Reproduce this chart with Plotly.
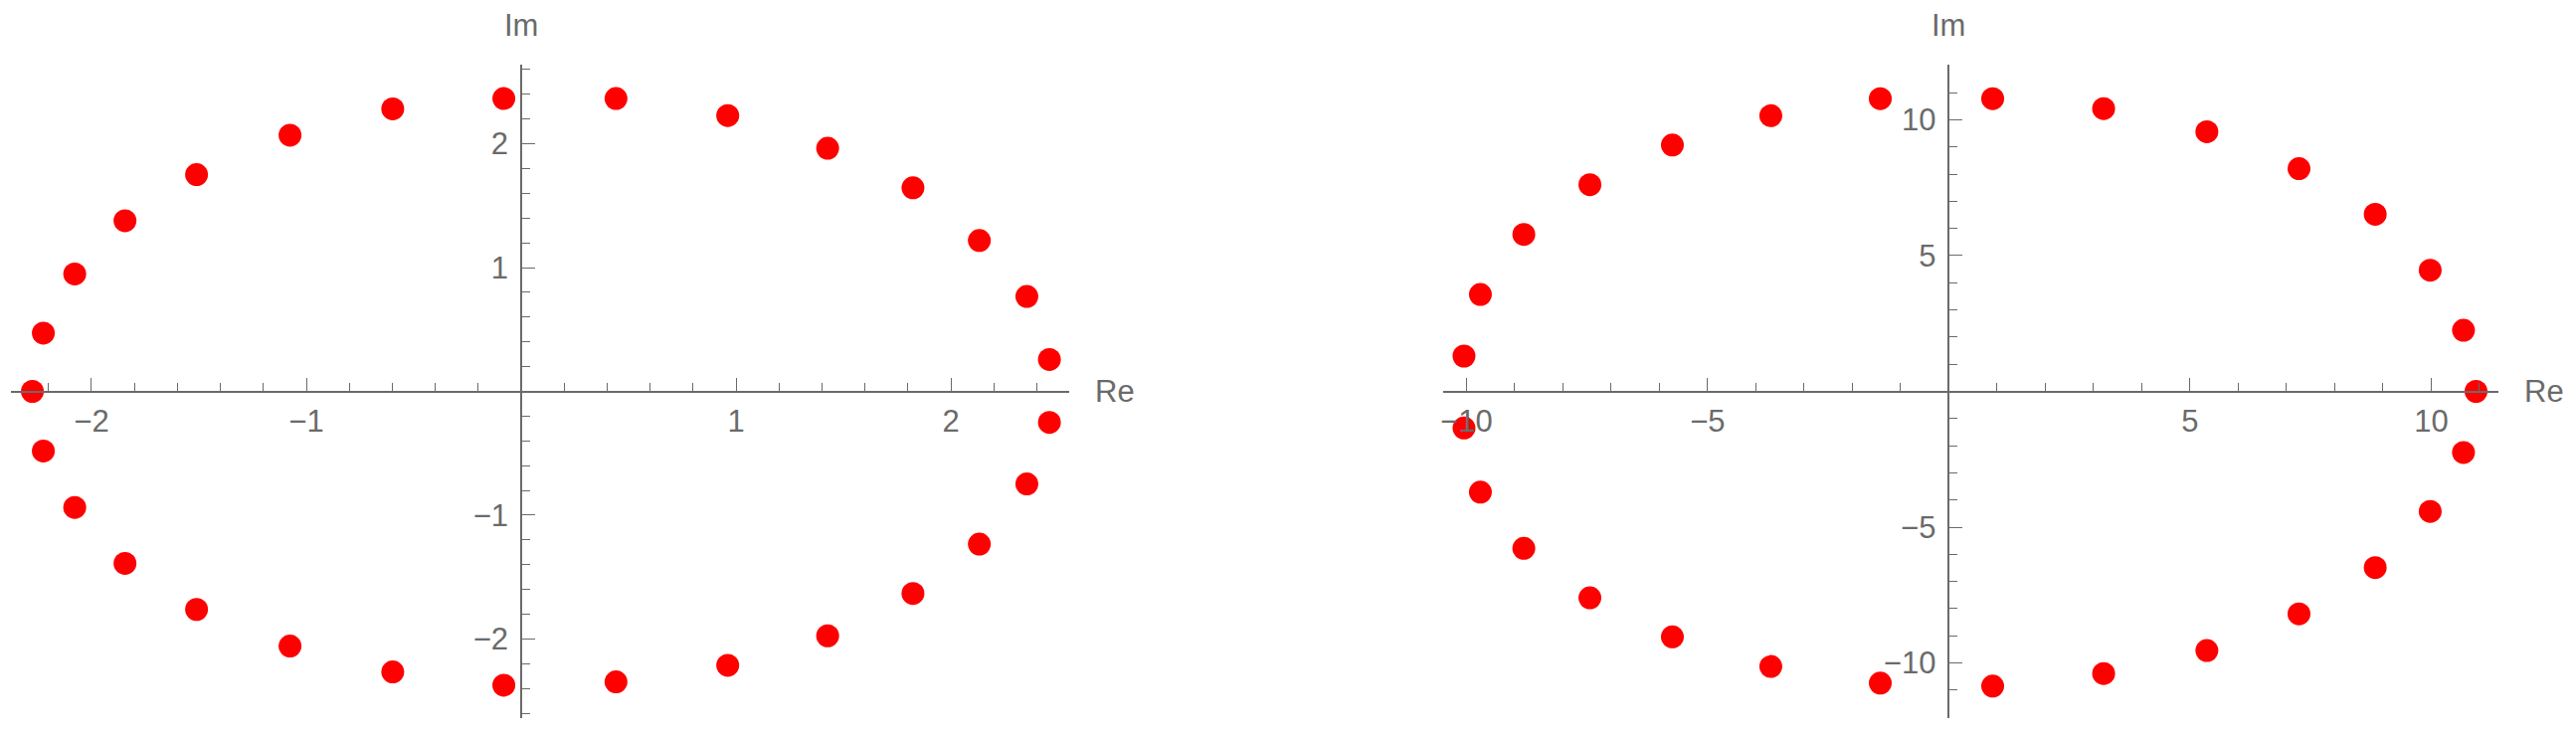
import plotly.graph_objects as go

# roots (left panel)
left_re = [-2.275, -2.224, -2.078, -1.844, -1.511, -1.076, -0.598, -0.081,
           0.441, 0.961, 1.426, 1.823, 2.132, 2.353, 2.458,
           2.458, 2.353, 2.132, 1.823, 1.426, 0.961, 0.441,
           -0.081, -0.598, -1.076, -1.511, -1.844, -2.078, -2.224]
left_im = [0.0, 0.471, 0.949, 1.379, 1.751, 2.070, 2.283, 2.366,
           2.366, 2.229, 1.964, 1.645, 1.219, 0.767, 0.258,
           -0.251, -0.748, -1.234, -1.633, -1.975, -2.214, -2.347,
           -2.374, -2.267, -2.058, -1.762, -1.390, -0.938, -0.482]

# right panel
right_re = [-10.05, -9.71, -8.81, -7.44, -5.73, -3.69, -1.42,
            0.91, 3.21, 5.35, 7.26, 8.84, 9.98, 10.67, 10.93,
            10.67, 9.98, 8.84, 7.26, 5.35, 3.21, 0.91,
            -1.42, -3.69, -5.73, -7.44, -8.81, -9.71, -10.05]
right_im = [1.30, 3.57, 5.78, 7.61, 9.07, 10.15, 10.78,
            10.78, 10.41, 9.56, 8.20, 6.52, 4.46, 2.25, 0.0,
            -2.25, -4.42, -6.49, -8.19, -9.54, -10.39, -10.85,
            -10.74, -10.13, -9.04, -7.60, -5.78, -3.71, -1.35]

left_xticks = [-2, -1, 1, 2]
left_yticks = [-2, -1, 1, 2]
right_xticks = [-10, -5, 5, 10]
right_yticks = [-10, -5, 5, 10]

W, H = 2590, 742
AX = "#6a6a6a"
FONT = dict(family="Liberation Sans, Arial, sans-serif", size=31, color=AX)

panels = [
    # (re, im, xrange, yrange, xdomain, xticks, yticks, xminor, yminor)
    (left_re, left_im, [-2.373, 2.548], [-2.64, 2.64], [8.4 / W, 1072.8 / W],
     left_xticks, left_yticks, 0.2, 0.2),
    (right_re, right_im, [-10.49, 11.39], [-12.03, 12.03], [1449.3 / W, 2511.7 / W],
     right_xticks, right_yticks, 1, 1),
]

fig = go.Figure()
layout = {}
for i, (re, im, xr, yr, xd, xt, yt, xm, ym) in enumerate(panels, start=1):
    sx = "" if i == 1 else str(i)
    fig.add_trace(go.Scatter(
        x=re, y=im, mode="markers", xaxis="x" + sx, yaxis="y" + sx,
        marker=dict(color="#ff0000", size=23, line=dict(width=0)),
        showlegend=False, hoverinfo="skip",
    ))
    # axes cross at the origin
    ypos = (0 - yr[0]) / (yr[1] - yr[0])
    xpos = xd[0] + (0 - xr[0]) / (xr[1] - xr[0]) * (xd[1] - xd[0])
    layout["xaxis" + sx] = dict(
        domain=xd, range=xr, anchor="free", position=ypos,
        showgrid=False, zeroline=False, showline=True, linecolor=AX, linewidth=1.5,
        tickmode="array", tickvals=xt, ticks="inside", ticklen=13, tickwidth=1.2,
        tickcolor=AX, tickfont=FONT, ticklabelstandoff=3,
        minor=dict(ticks="inside", ticklen=8, tickwidth=1.2, tickcolor=AX,
                   tickmode="linear", tick0=0, dtick=xm, showgrid=False),
        fixedrange=True,
    )
    layout["yaxis" + sx] = dict(
        domain=[0, 1], range=yr, anchor="free", position=xpos,
        showgrid=False, zeroline=False, showline=True, linecolor=AX, linewidth=1.5,
        tickmode="array", tickvals=yt, ticks="inside", ticklen=13, tickwidth=1.2,
        tickcolor=AX, tickfont=FONT, ticklabelstandoff=6,
        minor=dict(ticks="inside", ticklen=8, tickwidth=1.2, tickcolor=AX,
                   tickmode="linear", tick0=0, dtick=ym, showgrid=False),
        fixedrange=True,
    )
    fig.add_annotation(text="Re", xref="x" + sx + " domain", x=1, yref="y" + sx, y=0,
                       xanchor="left", yanchor="middle", xshift=24, showarrow=False,
                       font=FONT)
    fig.add_annotation(text="Im", xref="x" + sx, x=0, yref="y" + sx + " domain", y=1,
                       xanchor="center", yanchor="middle", yshift=40, showarrow=False,
                       font=FONT)

fig.update_layout(
    width=W, height=H,
    margin=dict(l=0, r=0, t=65, b=20),
    plot_bgcolor="white", paper_bgcolor="white",
    **layout,
)

fig.write_html("out.html", config={"displayModeBar": False},
               post_script="document.body.style.margin='0';")
